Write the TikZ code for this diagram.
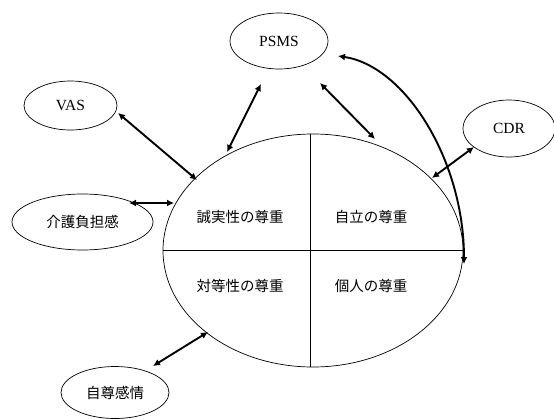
\documentclass[tikz,border=0pt]{standalone}
\usepackage{fontspec}
\setmainfont{Liberation Serif}
\newfontfamily\jpfont{Noto Sans CJK JP}
\usetikzlibrary{arrows.meta,shapes.geometric}
\begin{document}
\begin{tikzpicture}[x=1pt,y=-1pt,
  oval/.style={draw,ellipse,line width=0.7pt,inner sep=0pt,font=\fontsize{15.5}{17}\selectfont},
  jp/.style={font=\jpfont\fontsize{14.5}{17}\selectfont},
  link/.style={line width=1.9pt,{Latex[length=7pt,width=7pt]}-{Latex[length=7pt,width=7pt]}}]
\useasboundingbox (0,0) rectangle (554,418);
% main ellipse
\node[draw,ellipse,line width=0.7pt,minimum width=300pt,minimum height=233pt,inner sep=0pt] (M) at (313,250.5) {};
\draw[line width=0.8pt] (M.west) -- (M.east);
\coordinate (vt) at (310,134);
\coordinate (vb) at (310,367);
\draw[line width=0.8pt] (vt) -- (vb);
\node[jp] (q1) at (240,217) {誠実性の尊重};
\node[jp] (q2) at (371,217) {自立の尊重};
\node[jp] (q3) at (240,286) {対等性の尊重};
\node[jp] (q4) at (371,286) {個人の尊重};
% outer ovals
\node[oval,minimum width=98pt,minimum height=56pt] (psms) at (279,41) {PSMS};
\node[oval,minimum width=93pt,minimum height=49pt] (vas) at (70.5,105.5) {VAS};
\node[oval,minimum width=92pt,minimum height=57pt] (cdr) at (509,128.5) {CDR};
\node[oval,jp,minimum width=141pt,minimum height=56pt] (kaigo) at (82.5,222) {介護負担感};
\node[oval,jp,minimum width=108pt,minimum height=52pt] (jison) at (115,392.5) {自尊感情};
% arrow endpoints
\coordinate (a1s) at (261,84);  \coordinate (a1e) at (227,152);
\coordinate (a2s) at (320,83);  \coordinate (a2e) at (375,139);
\coordinate (a3s) at (338,56);  \coordinate (a3e) at (464,264);
\coordinate (a4s) at (474,147); \coordinate (a4e) at (432,178);
\coordinate (a5s) at (118,113); \coordinate (a5e) at (197,180);
\coordinate (a6s) at (129,203); \coordinate (a6e) at (174,203);
\coordinate (a7s) at (153,366); \coordinate (a7e) at (208,332);
\draw[link] (a1s) -- (a1e);
\draw[link] (a2s) -- (a2e);
\draw[link] (a3s) .. controls (405,66) and (464,160) .. (a3e);
\draw[link] (a4s) -- (a4e);
\draw[link] (a5s) -- (a5e);
\draw[link] (a6s) -- (a6e);
\draw[link] (a7s) -- (a7e);
\end{tikzpicture}
\end{document}
